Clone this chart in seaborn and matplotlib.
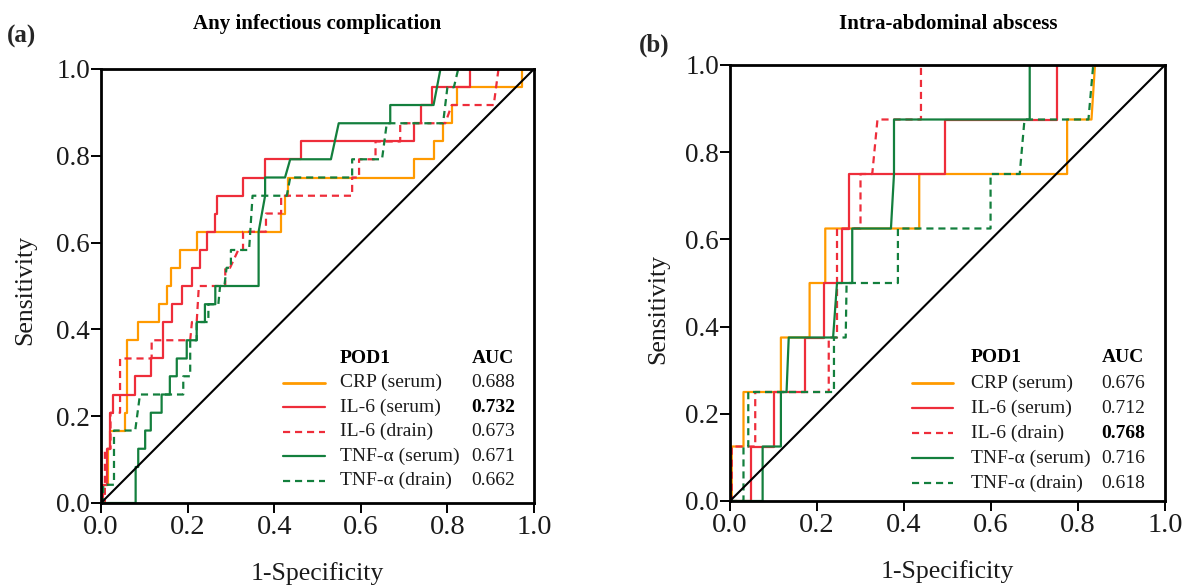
import numpy as np
import matplotlib
matplotlib.use("Agg")
import matplotlib.pyplot as plt
import seaborn as sns
from matplotlib.lines import Line2D

# ---------------- data ----------------
series_names = ["CRP (serum)", "IL-6 (serum)", "IL-6 (drain)", "TNF-\u03b1 (serum)", "TNF-\u03b1 (drain)"]
tick_values = [0.0, 0.2, 0.4, 0.6, 0.8, 1.0]
tick_labels = ["0.0", "0.2", "0.4", "0.6", "0.8", "1.0"]

# Panel (a): Any infectious complication (ROC vertices: 1-specificity, sensitivity)
a_crp_x = [0, 0.0, 0.017, 0.017, 0.02, 0.02, 0.056, 0.056, 0.061, 0.061, 0.086, 0.086, 0.135, 0.135, 0.152, 0.152,
           0.161, 0.161, 0.183, 0.183, 0.221, 0.221, 0.416, 0.416, 0.425, 0.425, 0.432, 0.432, 0.722, 0.722,
           0.768, 0.768, 0.79, 0.79, 0.81, 0.81, 0.822, 0.822, 0.973, 0.973, 1.0]
a_crp_y = [0, 0.042, 0.042, 0.125, 0.125, 0.167, 0.167, 0.208, 0.208, 0.375, 0.375, 0.417, 0.417, 0.458, 0.458, 0.5,
           0.5, 0.542, 0.542, 0.583, 0.583, 0.625, 0.625, 0.667, 0.667, 0.708, 0.708, 0.75, 0.75, 0.792,
           0.792, 0.833, 0.833, 0.875, 0.875, 0.917, 0.917, 0.958, 0.958, 1.0, 1.0]

a_il6s_x = [0, 0.004, 0.004, 0.013, 0.013, 0.02, 0.02, 0.027, 0.027, 0.079, 0.079, 0.116, 0.116, 0.144, 0.144,
            0.163, 0.163, 0.186, 0.186, 0.21, 0.21, 0.229, 0.229, 0.244, 0.244, 0.264, 0.264, 0.268, 0.268,
            0.328, 0.328, 0.379, 0.379, 0.462, 0.462, 0.722, 0.722, 0.738, 0.738, 0.765, 0.765, 0.853, 0.853, 1.0]
a_il6s_y = [0, 0, 0.042, 0.042, 0.125, 0.125, 0.208, 0.208, 0.25, 0.25, 0.292, 0.292, 0.333, 0.333, 0.417,
            0.417, 0.458, 0.458, 0.5, 0.5, 0.542, 0.542, 0.583, 0.583, 0.625, 0.625, 0.667, 0.667, 0.708,
            0.708, 0.75, 0.75, 0.792, 0.792, 0.833, 0.833, 0.875, 0.875, 0.917, 0.917, 0.958, 0.958, 1.0, 1.0]

a_il6d_x = [0, 0.009, 0.009, 0.022, 0.022, 0.044, 0.044, 0.117, 0.117, 0.206, 0.21, 0.221, 0.226, 0.264, 0.264,
            0.287, 0.287, 0.298, 0.317, 0.328, 0.328, 0.381, 0.381, 0.416, 0.416, 0.58, 0.58, 0.596, 0.596,
            0.634, 0.634, 0.691, 0.691, 0.795, 0.81, 0.907, 0.918, 1.0]
a_il6d_y = [0, 0, 0.125, 0.125, 0.208, 0.208, 0.333, 0.333, 0.375, 0.375, 0.417, 0.417, 0.5, 0.5, 0.5,
            0.5, 0.542, 0.542, 0.583, 0.583, 0.625, 0.625, 0.667, 0.667, 0.708, 0.708, 0.75, 0.75, 0.792,
            0.792, 0.833, 0.833, 0.875, 0.875, 0.917, 0.917, 1.0, 1.0]

a_tnfs_x = [0, 0.08, 0.08, 0.086, 0.086, 0.102, 0.102, 0.115, 0.115, 0.14, 0.14, 0.159, 0.159, 0.175, 0.175,
            0.198, 0.198, 0.221, 0.221, 0.24, 0.24, 0.264, 0.264, 0.364, 0.364, 0.379, 0.379, 0.425, 0.437,
            0.531, 0.549, 0.668, 0.668, 0.768, 0.784, 1.0]
a_tnfs_y = [0, 0, 0.083, 0.083, 0.125, 0.125, 0.167, 0.167, 0.208, 0.208, 0.25, 0.25, 0.292, 0.292, 0.333,
            0.333, 0.375, 0.375, 0.417, 0.417, 0.458, 0.458, 0.5, 0.5, 0.625, 0.708, 0.75, 0.75, 0.792,
            0.792, 0.875, 0.875, 0.917, 0.917, 1.0, 1.0]

a_tnfd_x = [0, 0.005, 0.005, 0.03, 0.03, 0.079, 0.09, 0.19, 0.19, 0.206, 0.206, 0.221, 0.221, 0.248, 0.248,
            0.271, 0.275, 0.285, 0.29, 0.3, 0.3, 0.342, 0.35, 0.429, 0.437, 0.58, 0.58, 0.649, 0.66, 0.79,
            0.8, 0.815, 0.825, 1.0]
a_tnfd_y = [0, 0, 0.042, 0.042, 0.167, 0.167, 0.25, 0.25, 0.292, 0.292, 0.375, 0.375, 0.417, 0.417, 0.458,
            0.458, 0.5, 0.5, 0.542, 0.542, 0.583, 0.583, 0.708, 0.708, 0.75, 0.75, 0.792, 0.792, 0.875, 0.875,
            0.958, 0.958, 1.0, 1.0]

a_auc = ["0.688", "0.732", "0.673", "0.671", "0.662"]

# Panel (b): Intra-abdominal abscess
b_crp_x = [0, 0.004, 0.004, 0.031, 0.031, 0.117, 0.117, 0.183, 0.183, 0.219, 0.219, 0.435, 0.435, 0.775, 0.775,
           0.831, 0.839, 1.0]
b_crp_y = [0, 0, 0.125, 0.125, 0.25, 0.25, 0.375, 0.375, 0.5, 0.5, 0.625, 0.625, 0.75, 0.75, 0.875,
           0.875, 1.0, 1.0]

b_il6s_x = [0, 0.048, 0.048, 0.1, 0.1, 0.173, 0.173, 0.215, 0.215, 0.258, 0.258, 0.273, 0.273, 0.495, 0.495,
            0.752, 0.752, 1.0]
b_il6s_y = [0, 0, 0.125, 0.125, 0.25, 0.25, 0.375, 0.375, 0.5, 0.5, 0.625, 0.625, 0.75, 0.75, 0.875,
            0.875, 1.0, 1.0]

b_il6d_x = [0, 0.004, 0.004, 0.058, 0.058, 0.227, 0.227, 0.246, 0.246, 0.3, 0.3, 0.327, 0.339, 0.439, 0.439, 1.0]
b_il6d_y = [0, 0, 0.125, 0.125, 0.25, 0.25, 0.375, 0.375, 0.625, 0.625, 0.75, 0.75, 0.875, 0.875, 1.0, 1.0]

b_tnfs_x = [0, 0.075, 0.075, 0.117, 0.117, 0.13, 0.135, 0.237, 0.246, 0.281, 0.281, 0.37, 0.377, 0.377, 0.689,
            0.689, 1.0]
b_tnfs_y = [0, 0, 0.125, 0.125, 0.25, 0.25, 0.375, 0.375, 0.5, 0.5, 0.625, 0.625, 0.75, 0.875, 0.875,
            1.0, 1.0]

b_tnfd_x = [0, 0.031, 0.031, 0.042, 0.042, 0.239, 0.239, 0.266, 0.268, 0.386, 0.386, 0.599, 0.599, 0.666, 0.677,
            0.824, 0.835, 1.0]
b_tnfd_y = [0, 0, 0.125, 0.125, 0.25, 0.25, 0.375, 0.375, 0.5, 0.5, 0.625, 0.625, 0.75, 0.75, 0.875,
            0.875, 1.0, 1.0]

b_auc = ["0.676", "0.712", "0.768", "0.716", "0.618"]

reference_line = [0.0, 1.0]

# ---------------- style ----------------
sns.set_style("ticks")
plt.rcParams["font.family"] = ["Liberation Serif", "DejaVu Serif"]

colors = ["#FF9A00", "#EE2D3A", "#EE2D3A", "#137F3D", "#137F3D"]
dash = (0, (3.2, 2.2))
styles = ["-", "-", dash, "-", dash]
LW = 1.6
TXT = "#1a1a1a"

fig = plt.figure(figsize=(11.92, 5.85), dpi=100)
ax_a = fig.add_axes([101 / 1192, 1 - 503 / 585, 433 / 1192, 434 / 585])
ax_b = fig.add_axes([730 / 1192, 1 - 501 / 585, 435 / 1192, 436 / 585])


def draw_panel(ax, xs, ys, aucs, bold_idx, ylab_pos, leg):
    for x, y, c, ls in zip(xs, ys, colors, styles):
        sns.lineplot(x=x, y=y, sort=False, estimator=None, color=c, linewidth=LW,
                     linestyle=ls, ax=ax)
    sns.lineplot(x=reference_line, y=reference_line, sort=False, estimator=None,
                 color="black", linewidth=1.5, ax=ax)
    ax.set_xlim(0, 1)
    ax.set_ylim(0, 1)
    ax.set_xticks(tick_values)
    ax.set_xticklabels(tick_labels)
    ax.set_yticks(tick_values)
    ax.set_yticklabels(tick_labels)
    ax.tick_params(axis="x", direction="out", length=7, width=1.4, pad=2,
                   labelsize=20.5, colors="black", labelcolor=TXT)
    ax.tick_params(axis="y", direction="out", length=7, width=1.4, pad=1,
                   labelsize=19.5, colors="black", labelcolor=TXT)
    for s in ax.spines.values():
        s.set_visible(True)
        s.set_linewidth(2.0)
        s.set_color("black")
    ax.set_xlabel("1-Specificity", fontsize=18.5, color=TXT)
    ax.xaxis.set_label_coords(0.5, -0.135)
    ax.set_ylabel("Sensitivity", fontsize=18.5, color=TXT)
    ax.yaxis.label.set_verticalalignment("center")
    ax.yaxis.set_label_coords(ylab_pos[0], ylab_pos[1])
    # legend table
    hx0, hx1, lx, ax_auc, y_head, dy = leg
    ax.text(lx, y_head, "POD1", transform=ax.transAxes, fontsize=14, fontweight="bold",
            ha="left", va="center", color="black")
    ax.text(ax_auc, y_head, "AUC", transform=ax.transAxes, fontsize=14, fontweight="bold",
            ha="left", va="center", color="black")
    for i, (name, c, ls, auc) in enumerate(zip(series_names, colors, styles, aucs)):
        yy = y_head - dy * (i + 1)
        ax.add_line(Line2D([hx0, hx1], [yy, yy], transform=ax.transAxes, color=c,
                           linestyle=ls, linewidth=2.0 if i == 0 else LW, clip_on=False))
        ax.text(lx, yy, name, transform=ax.transAxes, fontsize=14, ha="left", va="center", color=TXT)
        ax.text(ax_auc, yy, auc, transform=ax.transAxes, fontsize=14, ha="left", va="center",
                color="black" if i == bold_idx else TXT,
                fontweight="bold" if i == bold_idx else "normal")


draw_panel(ax_a, [a_crp_x, a_il6s_x, a_il6d_x, a_tnfs_x, a_tnfd_x],
           [a_crp_y, a_il6s_y, a_il6d_y, a_tnfs_y, a_tnfd_y],
           a_auc, 1, (-0.176, 0.49),
           (0.42, 0.517, 0.552, 0.856, 0.334, 0.0565))
draw_panel(ax_b, [b_crp_x, b_il6s_x, b_il6d_x, b_tnfs_x, b_tnfd_x],
           [b_crp_y, b_il6s_y, b_il6d_y, b_tnfs_y, b_tnfd_y],
           b_auc, 2, (-0.166, 0.44),
           (0.418, 0.513, 0.554, 0.854, 0.328, 0.0575))

# titles and panel letters
fig.text(317.5 / 1192, 1 - 24 / 585, "Any infectious complication", fontsize=15, fontweight="bold",
         ha="center", va="center", color="black")
fig.text(948 / 1192, 1 - 24 / 585, "Intra-abdominal abscess", fontsize=15, fontweight="bold",
         ha="center", va="center", color="black")
fig.text(7 / 1192, 1 - 36 / 585, "(a)", fontsize=18, fontweight="bold", ha="left", va="center")
fig.text(639 / 1192, 1 - 45 / 585, "(b)", fontsize=18, fontweight="bold", ha="left", va="center")

fig.savefig("out.png", dpi=100, facecolor="white")
